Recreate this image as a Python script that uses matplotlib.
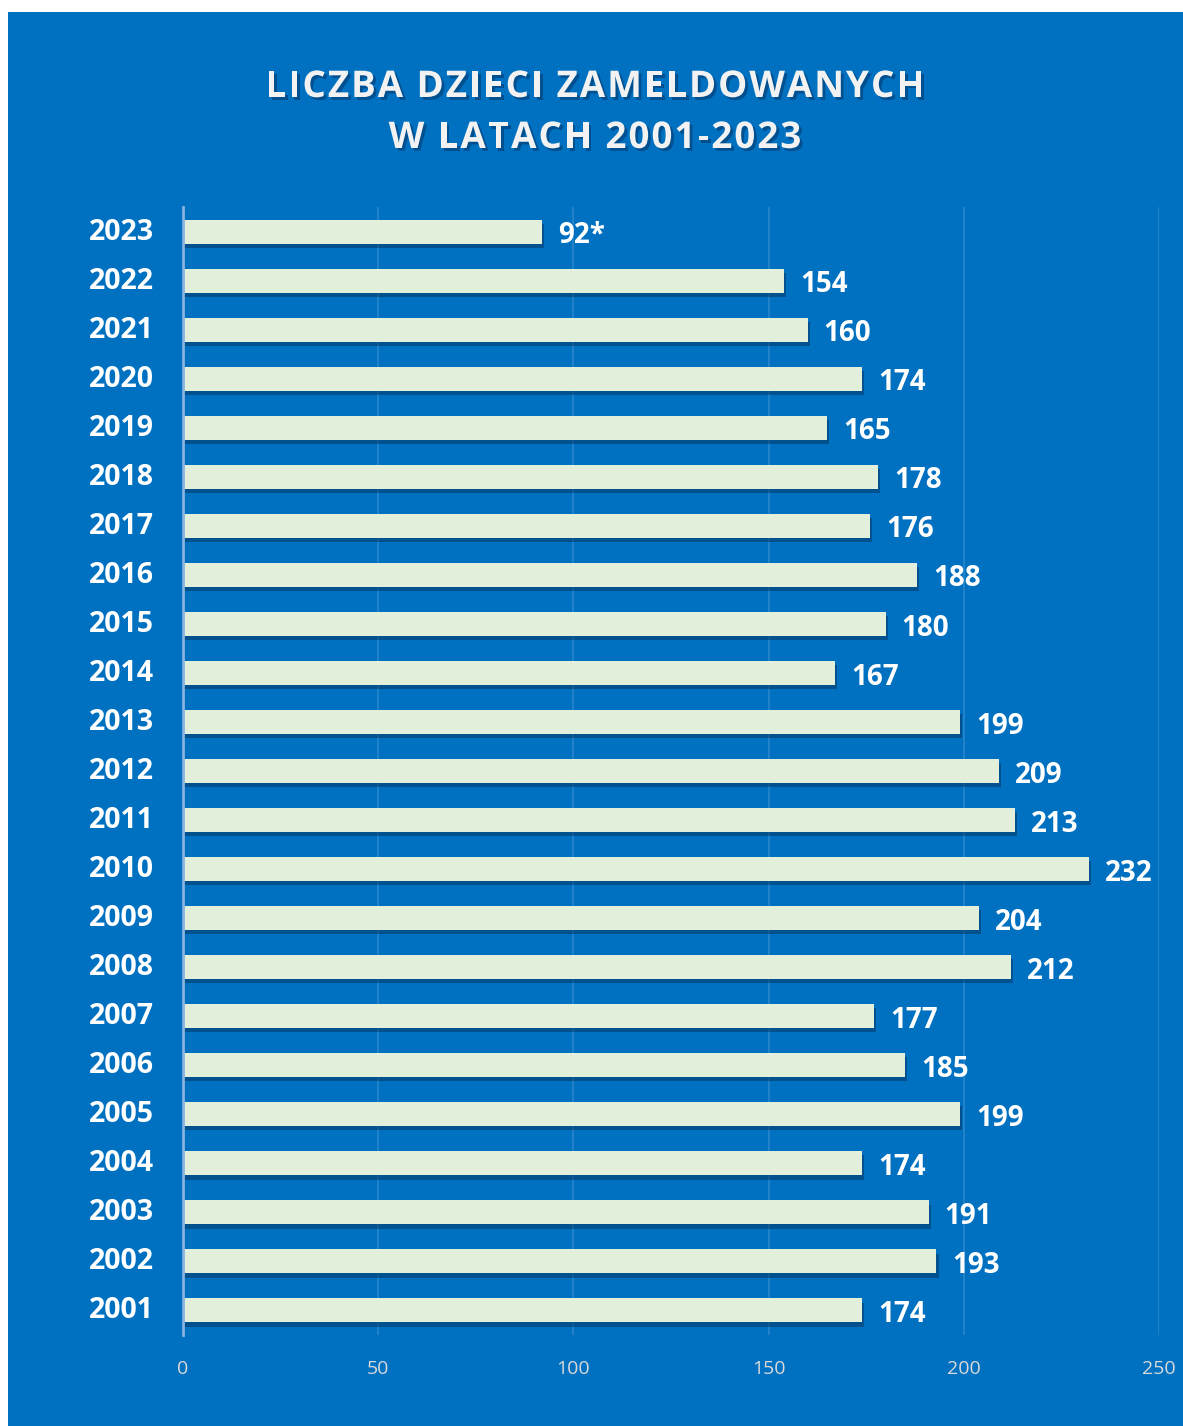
import numpy as np
import matplotlib
matplotlib.use("Agg")
import matplotlib.pyplot as plt
from matplotlib.patches import Rectangle
import matplotlib.patheffects as pe
import matplotlib.transforms as mtransforms

# data
years = [str(y) for y in range(2001, 2024)]
values = [174, 193, 191, 174, 199, 185, 177, 212, 204, 232, 213, 209,
          199, 167, 180, 188, 176, 178, 165, 174, 160, 154, 92]
value_labels = [str(v) for v in values[:-1]] + ["92*"]
xticks = [0, 50, 100, 150, 200, 250]
title_lines = ["LICZBA DZIECI ZAMELDOWANYCH", "W LATACH 2001-2023"]

bg = "#0070C0"
bar_col = "#E2EFDA"

W, H = 1183, 1426
fig = plt.figure(figsize=(W / 100, H / 100), dpi=100)
fig.patch.set_facecolor("white")
bgrect = Rectangle((8 / W, 0), 1 - 8 / W, 1 - 12 / H, transform=fig.transFigure,
                   facecolor=bg, edgecolor="none", zorder=-10)
fig.add_artist(bgrect)

ax = fig.add_axes([183 / W, 1 - 1335 / H, (1159 - 183) / W, (1335 - 207) / H])
ax.set_facecolor("none")
ax.set_zorder(1)

pos = np.arange(len(years))
bars = ax.barh(pos, values, height=0.49, color=bar_col, zorder=3)
for b in bars:
    b.set_path_effects([pe.SimplePatchShadow(offset=(1.5, -3), shadow_rgbFace="#00345e", alpha=0.5),
                        pe.Normal()])

for p, v, lab in zip(pos, values, value_labels):
    ax.annotate(lab, (v, p), xytext=(11.5, -3), textcoords="offset points",
                ha="left", va="center", color="white", fontsize=20,
                fontweight="bold", family="Open Sans")

ax.set_xlim(0, 250)
ax.set_ylim(-0.5, len(years) - 0.5)
ax.set_xticks(xticks)
ax.set_yticks(pos)
ax.set_yticklabels(years)
ax.grid(axis="x", color="#2A86CB", linewidth=1.2, zorder=0)
ax.set_axisbelow(True)
for s in ["top", "right", "bottom"]:
    ax.spines[s].set_visible(False)
ax.spines["left"].set_color("#86B4DE")
ax.spines["left"].set_linewidth(2)
ax.spines["left"].set_zorder(4)
ax.tick_params(axis="both", length=0)
ax.tick_params(axis="y", pad=21)
ax.tick_params(axis="x", pad=18)
up = mtransforms.ScaledTranslation(0, 3 / 100, fig.dpi_scale_trans)
for t in ax.get_yticklabels():
    t.set_color("white")
    t.set_fontsize(20.5)
    t.set_fontweight("bold")
    t.set_family("Open Sans")
    t.set_verticalalignment("center_baseline")
    t.set_transform(t.get_transform() + up)
for t in ax.get_xticklabels():
    t.set_color("#D9D9D9")
    t.set_fontsize(14)
    t.set_family("Open Sans")

# title with letter spacing, drawn char by char
shadow = [pe.withSimplePatchShadow(offset=(2, -2), shadow_rgbFace="#003060", alpha=0.5)]
renderer = fig.canvas.get_renderer()
tracking = 2.0  # px between letters
for line, yc in zip(title_lines, [87, 138]):
    widths = []
    for ch in line:
        t = fig.text(0, 0, ch, fontsize=26.5, fontweight="bold", family="Open Sans")
        if ch == " ":
            t.set_text("a a")
            wa = t.get_window_extent(renderer).width
            t.set_text("aa")
            w = wa - t.get_window_extent(renderer).width
        else:
            w = t.get_window_extent(renderer).width
        t.remove()
        widths.append(w)
    total = sum(widths) + tracking * (len(line) - 1)
    x = 595 - total / 2
    for ch, w in zip(line, widths):
        if ch != " ":
            fig.text(x / W, 1 - yc / H, ch, ha="left", va="center",
                     color="#F2F2F2", fontsize=26.5, fontweight="bold",
                     family="Open Sans", path_effects=shadow)
        x += w + tracking

fig.savefig("out.png", dpi=100)
